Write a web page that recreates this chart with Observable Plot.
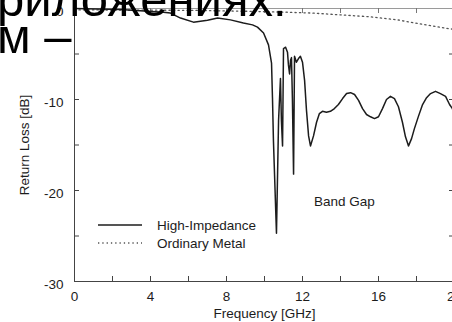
<!DOCTYPE html>
<html><head><meta charset="utf-8">
<script src="https://cdn.jsdelivr.net/npm/d3@7"></script>
<script src="https://cdn.jsdelivr.net/npm/@observablehq/plot@0.6"></script>
<style>
html,body{margin:0;padding:0;background:#fff;overflow:hidden;width:452px;height:322px;}
#wrap{position:relative;width:452px;height:322px;overflow:hidden;}
#wrap svg{overflow:visible;}
.big{position:absolute;font-family:"Liberation Sans",Arial,sans-serif;font-size:49px;line-height:49px;color:#000;white-space:nowrap;}
#legend{position:absolute;left:0;top:0;}
</style></head>
<body><div id="wrap"></div>
<script>
// Data
const freqHI = [0,2.42,4.68,5.05,5.58,6.26,6.63,7.0,7.53,8.21,8.89,9.37,9.63,9.95,10.21,10.37,10.42,10.47,10.63,10.74,10.84,10.89,10.95,11.0,11.11,11.21,11.26,11.32,11.37,11.42,11.47,11.53,11.58,11.68,11.79,11.89,12.0,12.11,12.21,12.32,12.42,12.58,12.74,12.89,13.05,13.26,13.47,13.68,13.89,14.11,14.32,14.53,14.74,14.95,15.16,15.37,15.58,15.79,16.0,16.21,16.42,16.63,16.84,17.05,17.26,17.42,17.58,17.74,17.89,18.11,18.32,18.53,18.74,19.0,19.26,19.53,19.74,19.89,20.0];
const lossHI = [0,-0.1,-0.4,-0.5,-1.05,-1.5,-1.4,-1.3,-1.05,-1.25,-1.6,-1.8,-2.05,-2.7,-4.0,-6.0,-9.8,-14.5,-24.7,-12.3,-7.7,-12.3,-15.1,-4.4,-4.25,-4.8,-6.2,-7.2,-5.7,-5.4,-10.1,-18.2,-5.25,-5.9,-5.5,-5.25,-5.9,-7.9,-11.2,-14.0,-15.1,-14.0,-12.5,-11.55,-11.3,-11.4,-11.3,-11.0,-10.55,-9.9,-9.35,-9.25,-9.45,-10.1,-11.0,-11.65,-11.9,-12.1,-11.9,-11.0,-10.0,-9.65,-9.9,-10.8,-12.5,-14.1,-15.1,-14.3,-13.2,-11.8,-10.55,-9.8,-9.35,-9.1,-9.35,-9.65,-10.55,-11.0,-11.8];
const freqMetal = [0,6,9,11,12.5,14,15.5,17,18.5,19.5,20];
const lossMetal = [-0.15,-0.2,-0.3,-0.4,-0.5,-0.7,-0.9,-1.25,-1.8,-2.15,-2.3];
const xDomain = [0,20];
const yDomain = [-30,0];
const xLabelTicks = [0,4,8,12,16,20];
const xMinorTicks = [2,4,6,8,10,12,14,16,18];
const yLabelTicks = [0,-10,-20,-30];
const yMinorTicks = [-5,-10,-15,-20,-25];
const seriesNames = ["High-Impedance","Ordinary Metal"];
const annotations = [{label:"Band Gap", f:12.6, db:-21.2}];
const overlayLines = ["приложениях.","м –"];

const hi = freqHI.map((f,i)=>({f, db: lossHI[i]}));
const metal = freqMetal.map((f,i)=>({f, db: lossMetal[i]}));

const W = 452, H = 322, mL = 74, mR = -2, mT = 8, mB = 41;
const innerW = W - mL - mR, innerH = H - mT - mB;
const ink = "#1c1c1c";

const plot = Plot.plot({
  width: W, height: H,
  marginLeft: mL, marginRight: mR, marginTop: mT, marginBottom: mB,
  x: {domain: xDomain},
  y: {domain: yDomain},
  style: {fontFamily: "Liberation Sans, Arial, sans-serif", fontSize: "13.5px", color: ink, background: "transparent", overflow: "visible"},
  marks: [
    Plot.ruleY([yDomain[1]], {stroke: "#9a9a9a", strokeWidth: 1}),
    Plot.ruleY([yDomain[0]], {stroke: "#444", strokeWidth: 1}),
    Plot.ruleX([xDomain[0]], {stroke: "#444", strokeWidth: 1}),
    Plot.ruleX([xDomain[1]], {stroke: "#444", strokeWidth: 1}),
    Plot.tickX(xMinorTicks, {x: d=>d, insetTop: innerH - 5, stroke: "#444"}),
    Plot.tickX(xMinorTicks, {x: d=>d, insetBottom: innerH - 5, stroke: "#777"}),
    Plot.tickY(yMinorTicks, {y: d=>d, insetRight: innerW - 5, stroke: "#444"}),
    Plot.tickY(yMinorTicks, {y: d=>d, insetLeft: innerW - 5, stroke: "#444"}),
    Plot.axisX({ticks: xLabelTicks, tickSize: 0, tickPadding: 9.5, tickFormat: d=>String(d),
      label: "Frequency [GHz]", labelAnchor: "center", labelArrow: "none", labelOffset: 36}),
    Plot.axisY({ticks: yLabelTicks, tickSize: 0, tickPadding: 11, tickFormat: d=>String(d), dy: 3,
      label: "Return Loss [dB]", labelAnchor: "center", labelArrow: "none", labelOffset: 55}),
    Plot.line(metal, {x: "f", y: "db", stroke: "#555", strokeWidth: 1.3, strokeDasharray: "1.3,3.2"}),
    Plot.line(hi, {x: "f", y: "db", stroke: ink, strokeWidth: 1.5, strokeLinejoin: "round"}),
    Plot.text(annotations, {x: "f", y: "db", text: "label", textAnchor: "start", fill: ink, fontSize: 13.5})
  ]
});
const wrap = document.getElementById("wrap");
wrap.appendChild(plot);

// Legend overlay
const ns = "http://www.w3.org/2000/svg";
const lg = document.createElementNS(ns, "svg");
lg.setAttribute("id","legend"); lg.setAttribute("width", W); lg.setAttribute("height", H);
const legendRows = [{y:225, dash:null, stroke:ink, sw:1.6},{y:243, dash:"1.3,3", stroke:"#555", sw:1.3}];
seriesNames.forEach((name,i)=>{
  const r = legendRows[i];
  const ln = document.createElementNS(ns,"line");
  ln.setAttribute("x1",98); ln.setAttribute("x2",142); ln.setAttribute("y1",r.y); ln.setAttribute("y2",r.y);
  ln.setAttribute("stroke",r.stroke); ln.setAttribute("stroke-width",r.sw);
  if (r.dash) ln.setAttribute("stroke-dasharray", r.dash);
  lg.appendChild(ln);
  const t = document.createElementNS(ns,"text");
  t.setAttribute("x",157); t.setAttribute("y",r.y); t.setAttribute("dy","0.35em");
  t.setAttribute("font-family","Liberation Sans, Arial, sans-serif"); t.setAttribute("font-size","13.5");
  t.setAttribute("fill", ink);
  t.textContent = name;
  lg.appendChild(t);
});
wrap.appendChild(lg);

// Overlaid document text
const pos = [{left:-29.5, top:-25.5},{left:-3, top:11.5}];
overlayLines.forEach((s,i)=>{
  const d = document.createElement("div");
  d.className = "big"; d.style.left = pos[i].left + "px"; d.style.top = pos[i].top + "px";
  d.textContent = s;
  wrap.appendChild(d);
});
</script>
</body></html>
